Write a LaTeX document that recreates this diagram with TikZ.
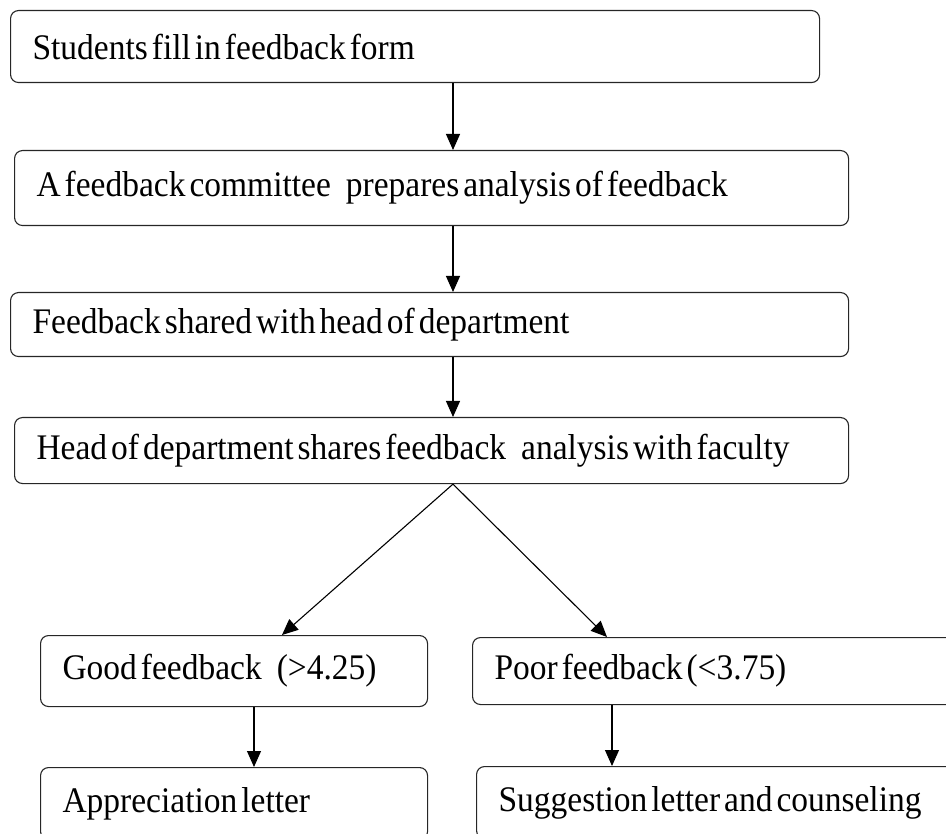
\documentclass[tikz,border=0pt]{standalone}
\usepackage{fontspec}
\setmainfont[FakeStretch=0.93]{Liberation Serif}
\usetikzlibrary{arrows.meta, positioning}

\newcommand{\widegap}{\hspace{15pt}}

\begin{document}
\begin{tikzpicture}[x=1pt, y=-1pt,
  stage/.style={draw=black!85, line width=1.1pt, rounded corners=8pt,
    anchor=north west, inner xsep=22pt, inner ysep=0pt, align=left,
    font=\fontsize{36}{40}\selectfont,
    execute at begin node={\spaceskip=4pt\relax}},
  flow/.style={-{Triangle[length=16pt, width=14pt]}, line width=1.1pt}]

  % page frame
  \clip (0,0) rectangle (946,834);

  % main column
  \node[stage, text width=765pt, minimum height=72pt] (fill) at (10,10)
    {\mbox{Students fill in feedback form}};
  \node[stage, text width=790pt, minimum height=75pt] (committee) at (14,150)
    {\mbox{A feedback committee\widegap prepares analysis of feedback}};
  \node[stage, text width=794pt, minimum height=64pt] (shared) at (10,292)
    {\mbox{Feedback shared with head of department}};
  \node[stage, text width=790pt, minimum height=66pt] (faculty) at (14,417)
    {\mbox{Head of department shares feedback\widegap analysis with faculty}};

  % the two branches
  \node[stage, text width=343pt, minimum height=71pt] (good) at (40,635)
    {\mbox{Good feedback\widegap (>4.25)}};
  \node[stage, text width=444pt, minimum height=67pt] (poor) at (472,637)
    {\mbox{Poor feedback (<3.75)}};
  \node[stage, text width=343pt, minimum height=72pt] (letter) at (40,767)
    {\mbox{Appreciation letter}};
  \node[stage, text width=440pt, minimum height=72pt] (counsel) at (476,766)
    {\mbox{Suggestion letter and counseling}};

  % where the arrows run
  \coordinate (spine) at (453,0);
  \coordinate (goodtip) at (282,0);
  \coordinate (poortip) at (607,0);
  \coordinate (goodx) at (254,0);
  \coordinate (poorx) at (612,0);

  \draw[flow] (fill.south -| spine) -- (committee.north -| spine);
  \draw[flow] (committee.south -| spine) -- (shared.north -| spine);
  \draw[flow] (shared.south -| spine) -- (faculty.north -| spine);

  \draw[flow] (faculty.south -| spine) -- (good.north -| goodtip);
  \draw[flow] (faculty.south -| spine) -- (poor.north -| poortip);

  \draw[flow] (good.south -| goodx) -- (letter.north -| goodx);
  \draw[flow] (poor.south -| poorx) -- (counsel.north -| poorx);

\end{tikzpicture}
\end{document}
